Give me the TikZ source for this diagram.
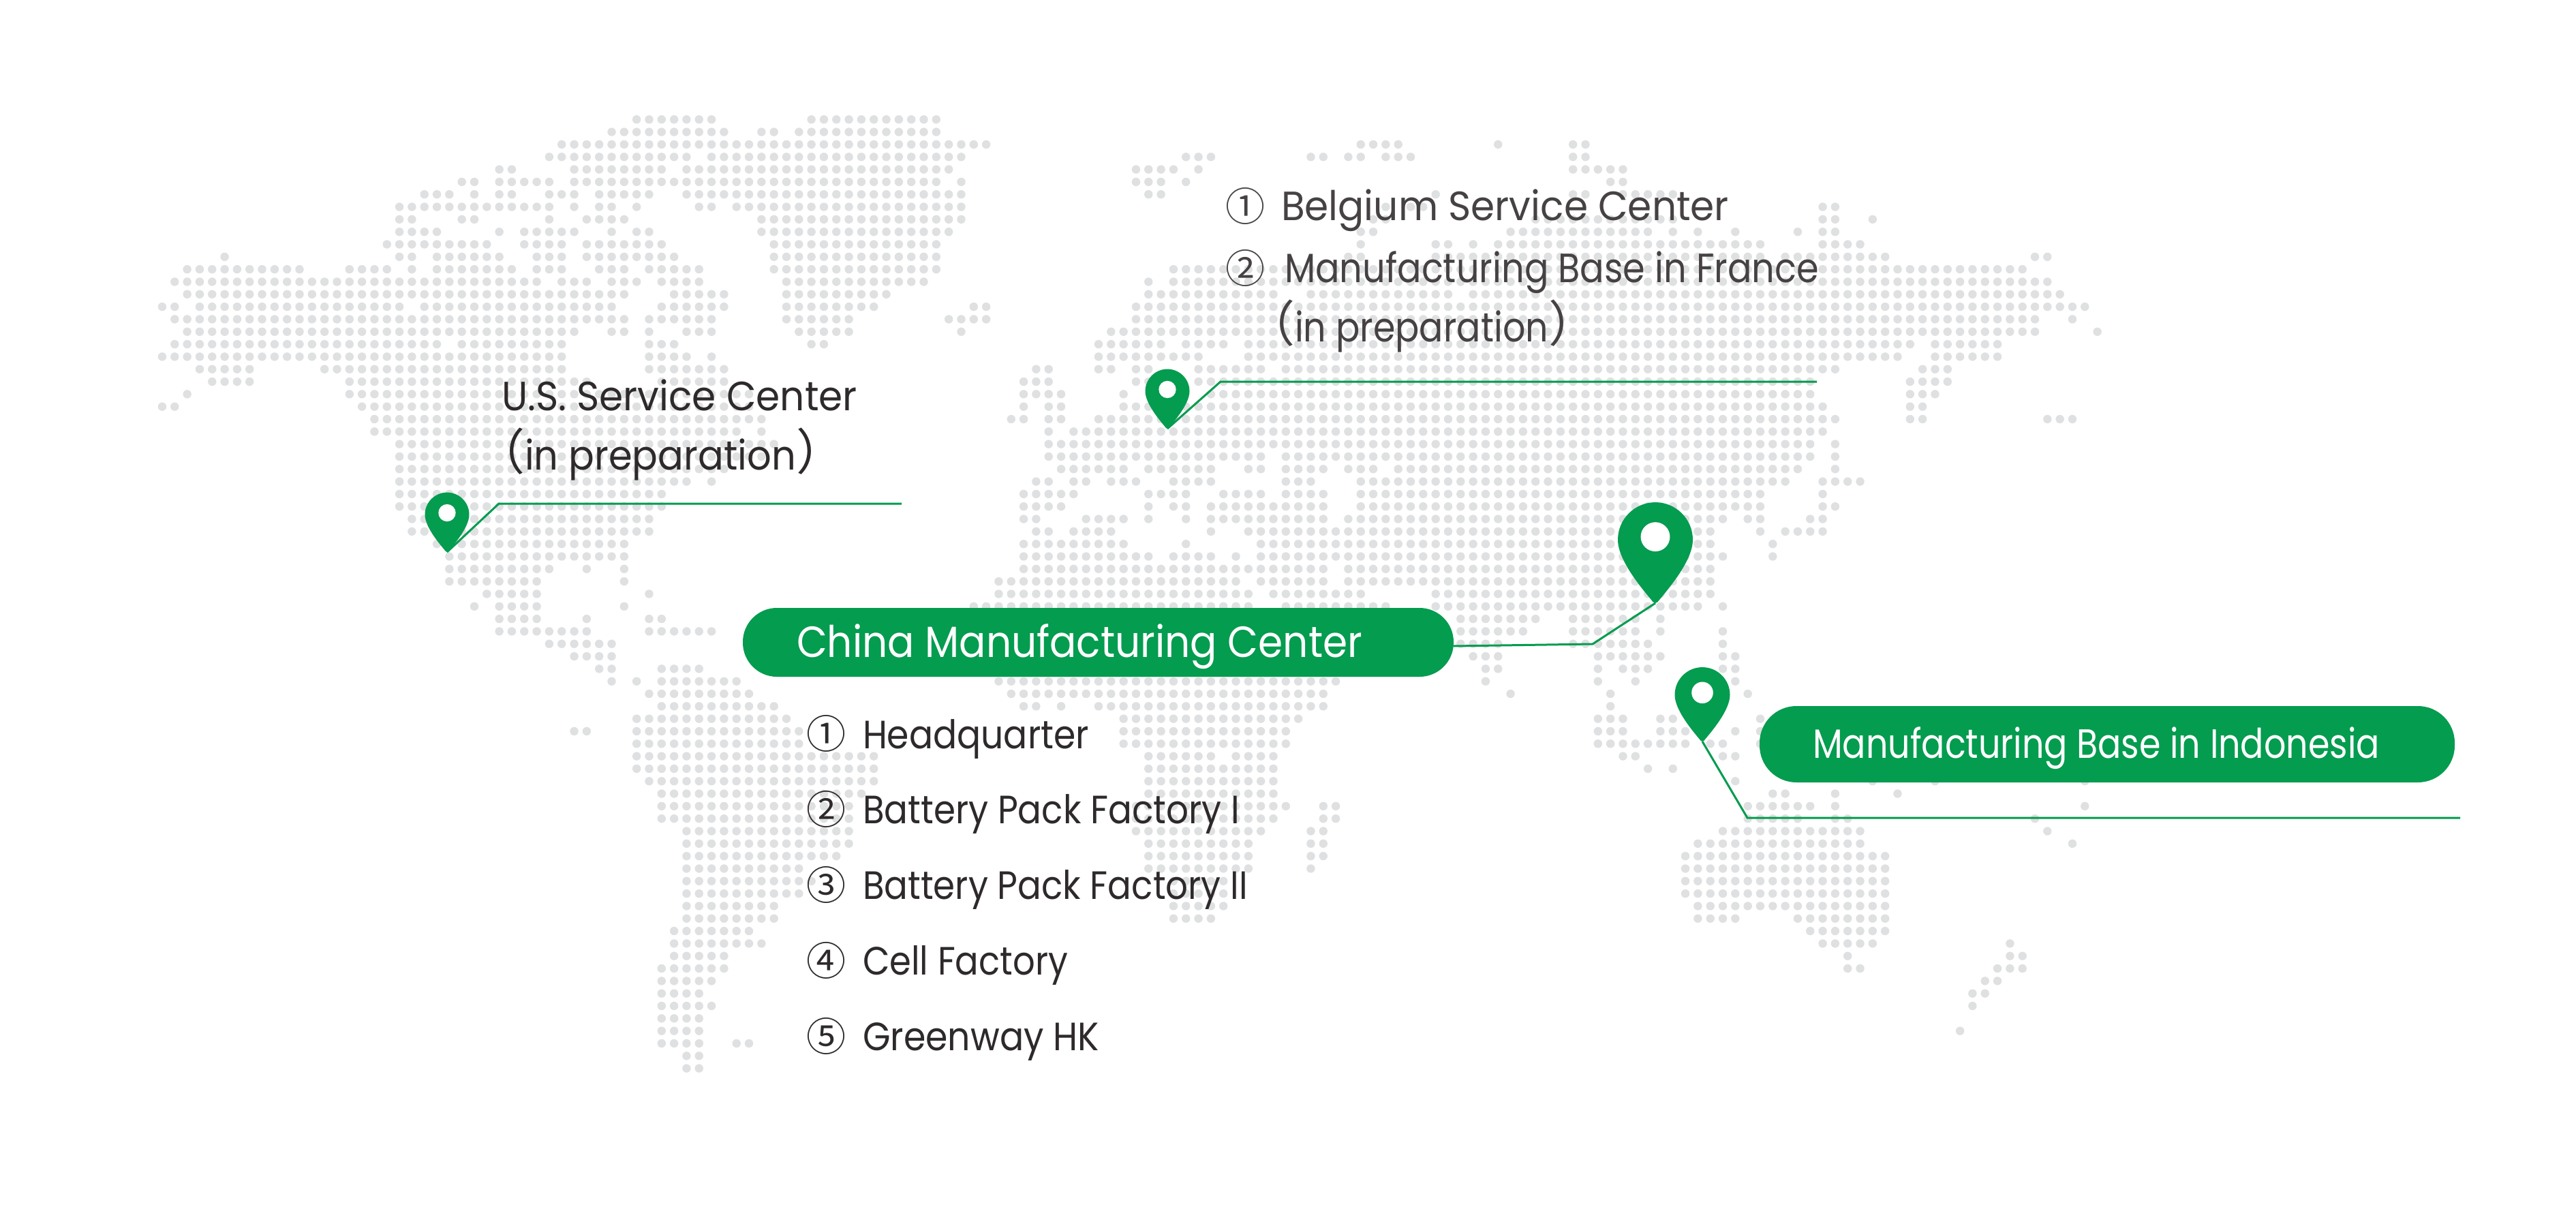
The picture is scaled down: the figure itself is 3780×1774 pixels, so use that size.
\documentclass[tikz,border=0pt]{standalone}
\usepackage{fontspec}
\usepackage{graphicx}
\setmainfont{Poppins}
\newfontfamily\cjk{Noto Sans CJK SC}
\definecolor{brandgreen}{RGB}{4,156,79}
\definecolor{dotgrey}{RGB}{223,224,225}
\definecolor{inkdark}{RGB}{46,42,43}
\definecolor{inkgrey}{RGB}{70,66,67}
\newcommand{\dotrow}[2]{%
  \fill[dotgrey] \foreach \a/\b in {#2}{\foreach \c in {\a,...,\b}{({238+18.32*\c},{-175.3-18.32*#1}) circle[radius=6.2pt]}};}
% name, x, baseline y, width, size, colour, text
\newcommand{\lab}[7]{\node[anchor=base west,inner sep=0pt,outer sep=0pt,text=#6] (#1) at (#2,-#3)
  {\fontsize{#5}{#5}\selectfont\resizebox{#4pt}{\height}{#7}};}
% name, x, baseline y, inner width, colour
\newcommand{\prep}[5]{\node[anchor=base west,inner sep=0pt,outer sep=0pt,text=#5] (#1) at (#2,-#3)
  {\fontsize{72}{72}\cjk （\resizebox{#4pt}{\height}{\rmfamily\fontsize{60}{60}\selectfont in preparation}）};}
\newcommand{\pin}[4]{% tip name, tip x, tip y, width
  \coordinate (#1) at (#2,-#3);
  \fill[brandgreen,shift={(#2,-#3)},x=#4pt,y=#4pt]
    (0,1.345) .. controls (-.276,1.345) and (-.5,1.121) .. (-.5,.845)
    .. controls (-.5,.55) and (-.13,.14) .. (-.03,.015)
    .. controls (-.015,-.004) and (.015,-.004) .. (.03,.015)
    .. controls (.13,.14) and (.5,.55) .. (.5,.845)
    .. controls (.5,1.121) and (.276,1.345) .. (0,1.345) -- cycle;
  \fill[white,shift={(#2,-#3)},x=#4pt,y=#4pt] (0,.885) circle[radius=.195];}
\tikzset{pill/.style={fill=brandgreen,inner sep=0pt,outer sep=0pt},
  leader/.style={draw=brandgreen,line width=3pt,line join=miter}}
\begin{document}
\begin{tikzpicture}[x=1pt,y=1pt]
\useasboundingbox (0,0) rectangle (3780,-1774);
\fill[white] (0,0) rectangle (3780,-1774);
\dotrow{0}{38/44,52/62}
\dotrow{1}{36/45,48/49,51/62}
\dotrow{2}{32/66,96/99,107/107,113/114}
\dotrow{3}{31/42,44/64,82/84,92/93,95/96,98/100,113/114}
\dotrow{4}{27/28,33/40,42/63,78/81,83/83,113/117}
\dotrow{5}{24/25,27/31,33/62,64/64,78/80,82/82,116/117}
\dotrow{6}{21/23,25/25,27/28,31/33,35/39,42/64,79/80,102/102,113/114,117/121}
\dotrow{7}{19/31,33/33,35/36,38/38,43/44,46/64,98/98,100/101,133/134}
\dotrow{8}{19/20,24/25,31/31,34/37,48/64,97/98,110/121,133/134,137/137}
\dotrow{9}{19/22,27/27,29/33,36/36,38/39,48/63,96/97,108/119,121/121,123/123,126/126,131/131,133/134}
\dotrow{10}{18/26,29/32,34/40,49/62,96/96,102/103,105/105,107/128,133/136}
\dotrow{11}{5/5,19/20,22/27,30/32,34/41,49/62,95/96,102/128,130/138,150/151}
\dotrow{12}{2/11,15/18,20/20,22/28,30/32,35/37,39/43,49/62,81/149}
\dotrow{13}{1/30,32/34,36/38,40/43,50/61,79/79,81/151}
\dotrow{14}{2/37,41/45,50/58,79/89,92/103,105/152}
\dotrow{15}{0/1,3/19,21/36,40/45,50/57,65/66,78/154}
\dotrow{16}{1/37,39/44,50/55,63/66,78/150,153/153}
\dotrow{17}{2/33,36/37,39/39,42/44,51/55,64/64,76/150,155/155}
\dotrow{18}{1/22,24/32,39/41,52/53,75/80,82/85,87/140,142/147}
\dotrow{19}{0/32,39/42,44/44,75/83,87/139,142/147}
\dotrow{20}{3/7,13/32,39/45,70/71,75/76,78/79,83/88,90/134,141/143}
\dotrow{21}{4/7,15/34,40/45,69/71,78/79,83/132,140/143}
\dotrow{22}{2/2,15/47,69/72,77/77,84/132,140/142}
\dotrow{23}{0/1,16/47,69/69,71/72,77/133,140/141}
\dotrow{24}{17/48,68/69,71/72,75/134,140/141,151/153}
\dotrow{25}{17/46,48/48,71/71,73/133}
\dotrow{26}{19/49,71/132,134/134}
\dotrow{27}{19/48,71/88,90/132,134/134}
\dotrow{28}{19/45,72/77,79/84,87/88,90/93,95/97,99/131,134/134}
\dotrow{29}{19/42,44/44,70/71,73/74,76/78,81/84,90/92,96/130,133/136}
\dotrow{30}{19/40,69/73,79/82,85/88,90/93,96/128,133/133}
\dotrow{31}{19/40,69/72,79/79,81/82,84/93,96/128,133/134}
\dotrow{32}{20/39,69/70,74/77,79/79,82/82,84/93,95/125,127/128,132/133}
\dotrow{33}{20/39,70/71,73/76,84/84,87/124,128/128,130/133}
\dotrow{34}{22/37,69/77,82/82,88/124,129/129}
\dotrow{35}{23/37,69/79,81/84,86/86,88/125,129/129}
\dotrow{36}{23/31,34/34,37/37,69/93,95/124}
\dotrow{37}{23/30,37/37,67/86,88/93,95/124}
\dotrow{38}{26/30,39/39,67/87,89/96,102/124}
\dotrow{39}{25/25,27/30,37/37,65/87,90/98,102/123,125/125}
\dotrow{40}{27/30,34/34,39/40,104/110,113/118,120/120}
\dotrow{41}{27/34,39/44,104/109,113/118,120/120,125/125}
\dotrow{42}{31/36,104/107,113/119,125/125}
\dotrow{43}{33/36,105/107,115/120,125/126}
\dotrow{44}{35/36,40/43,106/107,115/115,117/119,125/126}
\dotrow{45}{36/36,38/38,40/46,67/94,106/106,115/115,118/118,126/126}
\dotrow{46}{39/47,68/93,108/108,116/116,127/127}
\dotrow{47}{40/49,69/70,72/72,75/93,116/116}
\dotrow{48}{38/50,77/91,115/117,120/121,128/128}
\dotrow{49}{33/34,38/51,77/90,115/117,120/122,126/126,128/128}
\dotrow{50}{38/51,77/90,115/122,124/125,128/128}
\dotrow{51}{38/57,79/84,86/89,117/118,125/126}
\dotrow{52}{38/57,79/89,119/119,121/121}
\dotrow{53}{39/57,79/89,126/126,137/137,142/142,154/154}
\dotrow{54}{40/56,79/89,129/130,134/134,139/139}
\dotrow{55}{40/55,78/90,93/94,127/132,134/134,154/154}
\dotrow{56}{40/55,78/89,93/94,127/131,134/135,150/150}
\dotrow{57}{42/55,78/88,92/93,125/136,151/151}
\dotrow{58}{42/55,79/87,92/93,123/136,153/153}
\dotrow{59}{42/54,79/87,92/93,122/138}
\dotrow{60}{42/51,79/87,92/92,122/138}
\dotrow{61}{42/52,81/85,122/138}
\dotrow{62}{42/51,81/85,122/138}
\dotrow{63}{42/49,81/85,123/138}
\dotrow{64}{42/49,81/84,123/126,131/138}
\dotrow{65}{41/47,132/138}
\dotrow{66}{41/48,133/137,148/148}
\dotrow{67}{41/45,135/135,148/149}
\dotrow{68}{40/45,135/136,147/149}
\dotrow{69}{40/44,146/147}
\dotrow{70}{40/43,145/146}
\dotrow{71}{40/44,145/145}
\dotrow{72}{40/43}
\dotrow{73}{40/43,144/144}
\dotrow{74}{40/43,46/47}
\dotrow{75}{42/43}
\dotrow{76}{42/43}
% pills
\node[pill,minimum width=1043pt,minimum height=101pt,rounded corners=50pt] (chinaPill) at (1611.5,-942.5) {};
\node[pill,minimum width=1020pt,minimum height=112pt,rounded corners=54pt] (indoPill) at (3092,-1092) {};
% leaders
\coordinate (usKnee) at (732,-739); \coordinate (usEnd) at (1323,-739);
\coordinate (beKnee) at (1791,-560); \coordinate (beEnd) at (2666,-560);
\coordinate (cnKnee) at (2337,-945); \coordinate (cnStart) at (2133,-948);
\coordinate (idKnee) at (2564,-1200); \coordinate (idEnd) at (3610,-1200);
\pin{usTip}{656}{810}{65}
\pin{beTip}{1713}{629}{65}
\pin{cnTip}{2429}{885}{110}
\pin{idTip}{2498}{1088}{81}
\draw[leader] (usTip) -- (usKnee) -- (usEnd);
\draw[leader] (beTip) -- (beKnee) -- (beEnd);
\draw[leader] (cnStart) -- (cnKnee) -- (cnTip);
\draw[leader] (idTip) -- (idKnee) -- (idEnd);
% labels
\lab{usA}{736}{602}{522}{60}{inkdark}{U.S. Service Center}
\prep{usB}{698}{689}{398}{inkdark}
\lab{beA}{1880}{323}{657}{60}{inkgrey}{Belgium Service Center}
\prep{beC}{1828}{501.6}{372}{inkgrey}
\lab{beB}{1885}{414.5}{784}{60}{inkgrey}{Manufacturing Base in France}
\lab{cnA}{1169}{964}{830}{64}{white}{China Manufacturing Center}
\lab{idA}{2660}{1112}{832}{60}{white}{Manufacturing Base in Indonesia}
\lab{l1}{1266}{1098}{332}{58}{inkdark}{Headquarter}
\lab{l2}{1266}{1208.5}{553}{58}{inkdark}{Battery Pack Factory I}
\lab{l3}{1266}{1319.5}{565}{58}{inkdark}{Battery Pack Factory II}
\lab{l4}{1266}{1430}{301}{58}{inkdark}{Cell Factory}
\lab{l5}{1266}{1541.5}{347}{58}{inkdark}{Greenway HK}
\node[inner sep=0pt,text=inkgrey] (beN1) at (1827,-302) {\fontsize{58}{58}\cjk ①};
\node[inner sep=0pt,text=inkgrey] (beN2) at (1827,-393.5) {\fontsize{58}{58}\cjk ②};
\node[inner sep=0pt,text=inkdark] (lN1) at (1212,-1076) {\fontsize{58}{58}\cjk ①};
\node[inner sep=0pt,text=inkdark] (lN2) at (1212,-1187) {\fontsize{58}{58}\cjk ②};
\node[inner sep=0pt,text=inkdark] (lN3) at (1212,-1298) {\fontsize{58}{58}\cjk ③};
\node[inner sep=0pt,text=inkdark] (lN4) at (1212,-1409.6) {\fontsize{58}{58}\cjk ④};
\node[inner sep=0pt,text=inkdark] (lN5) at (1212,-1520.5) {\fontsize{58}{58}\cjk ⑤};
\end{tikzpicture}
\end{document}
